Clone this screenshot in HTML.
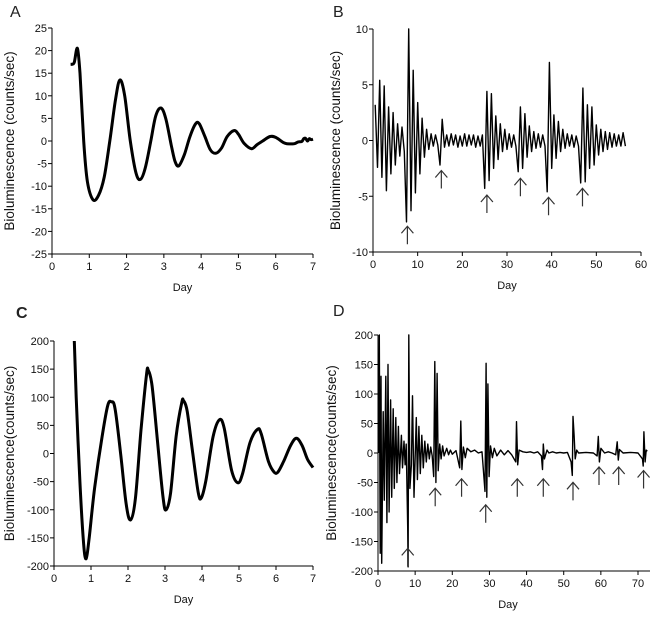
<!DOCTYPE html>
<html><head><meta charset="utf-8"><style>
body{margin:0;background:#fff}
svg{display:block;font-family:"Liberation Sans",Arial,sans-serif}
</style></head><body>
<svg id="fig" width="654" height="619" viewBox="0 0 654 619"></svg>
<script>
// Panel A data
const aDays=[0.5,0.55,0.6,0.68,0.75,0.85,0.95,1.1,1.25,1.4,1.55,1.7,1.82,1.95,2.1,2.25,2.37,2.5,2.65,2.78,2.92,3.05,3.2,3.3,3.4,3.55,3.7,3.85,3.95,4.1,4.25,4.4,4.55,4.7,4.88,5.0,5.15,5.35,5.5,5.65,5.85,6.0,6.2,6.3,6.5,6.6,6.7,6.75,6.8,6.85,6.9,6.95,7];
const aVals=[17,17,17.5,20.5,15,0,-9,-13,-12,-8,0,9,13.5,10,0,-7,-8.5,-6,0,5.5,7.3,5,-1,-4.5,-5.5,-3,1,3.8,3.8,1,-2,-2.7,-1.5,1,2.3,1.5,-0.5,-1.7,-0.8,0,1,0.8,-0.3,-0.6,-0.6,-0.2,-0.1,0.5,0.6,0,0.5,0.3,0.4];
const aYTicks=[25,20,15,10,5,0,-5,-10,-15,-20,-25];
const aXTicks=[0,1,2,3,4,5,6,7];
// Panel B data (day 0.5, step 0.5)
const bVals=[3.2,-2.4,5.4,-3.3,4.9,-4.5,3.0,-3.0,2.5,-2.2,1.5,-1.4,1.2,-1.0,-7.3,10,-6.3,6.3,-4.7,3.4,-3.0,2.0,-1.5,1.0,-0.8,0.6,-0.5,0.5,-0.4,-2.2,1.9,-0.6,0.5,-0.5,0.6,-0.4,0.5,-0.6,0.4,-0.5,0.6,-0.5,0.5,-0.4,0.5,-0.6,0.4,-0.5,0.5,-4.3,4.4,-3.6,4.2,-2.5,2.2,-1.7,1.5,-1.0,1.0,-0.8,0.6,-0.6,0.5,-0.5,-2.8,3.0,-2.5,2.4,-1.5,1.3,-1.0,0.8,-0.7,0.6,-0.6,0.5,-0.5,-4.6,7.0,-2.5,2.3,-1.6,1.7,-1.0,1.0,-0.7,0.6,-0.5,0.5,-0.6,0.4,-0.5,-3.8,4.7,-3.7,3.2,-2.5,3.0,-2.2,1.4,-1.3,1.0,-1.0,0.8,-0.8,0.7,-0.6,0.6,-0.5,0.5,-0.5,0.7,-0.5];
const bArrowDays=[7.7,15.3,25.5,33,39.3,46.9];
const bArrowTips=[-7.6,-2.6,-4.8,-3.3,-5.0,-4.2];
const bYTicks=[10,5,0,-5,-10];
const bXTicks=[0,10,20,30,40,50,60];
// Panel C data
const cDays=[0.55,0.6,0.7,0.8,0.87,0.95,1.1,1.3,1.45,1.55,1.65,1.8,1.95,2.07,2.2,2.35,2.5,2.55,2.65,2.8,2.95,3.03,3.15,3.3,3.45,3.5,3.6,3.75,3.9,3.98,4.1,4.3,4.47,4.6,4.8,4.97,5.1,5.3,5.5,5.6,5.8,5.95,6.05,6.2,6.4,6.55,6.7,6.85,7];
const cVals=[200,100,-50,-160,-187,-150,-60,30,85,92,80,0,-90,-118,-80,40,140,148,120,20,-80,-100,-70,30,90,94,75,0,-70,-79,-50,30,60,45,-30,-52,-35,20,43,35,-15,-33,-33,-15,15,27,15,-10,-25];
const cYTicks=[200,150,100,50,0,-50,-100,-150,-200];
const cXTicks=[0,1,2,3,4,5,6,7];
// Panel D data
const dDays=[0.2,0.35,0.6,0.8,1.0,1.4,1.7,2.1,2.4,2.7,3.0,3.4,3.7,4.1,4.4,4.8,5.1,5.5,5.8,6.3,6.6,7.0,7.3,7.6,8.0,8.1,8.3,8.6,9.0,9.3,9.7,10.3,10.6,11,11.4,11.8,12.2,12.6,13,13.4,13.8,14.2,14.6,15.0,15.3,15.6,15.9,16.2,16.6,17,17.4,17.8,18.5,19,19.5,20,21,22,22.3,22.6,23.0,23.5,24,25,26,27,28,28.8,29.1,29.3,29.6,29.9,30.3,30.8,31.3,32,33,34,35,36,37.1,37.3,37.6,38,39,40,41,42,43,44,44.3,44.5,44.8,45.5,46,47,48,49,50,51,52,52.3,52.5,52.8,53.1,53.5,54,56,58,59,59.3,59.6,60,61,62,63,64,64.4,64.7,65,66,68,70,71.2,71.4,71.6,71.9,72.2,72.5];
const dVals=[0,200,-170,130,-187,70,-80,130,-118,150,-100,90,-75,75,-60,60,-50,45,-35,30,-25,20,-20,15,-125,-193,200,-60,-20,97,-75,60,-45,45,-35,30,-25,20,-15,15,-10,10,-5,-40,155,-50,135,-30,15,-10,12,-5,8,-3,5,-2,4,-25,54,-28,10,-8,8,2,5,0,2,-65,152,-75,117,-40,12,-8,8,-5,5,-3,4,-3,-15,53,-20,5,2,1,2,0,2,-5,-28,15,-10,5,0,2,0,1,0,1,-15,-38,62,30,-10,5,0,1,0,-5,28,-15,8,0,2,0,-3,19,-12,6,0,1,0,-10,-22,36,-15,5,3];
const dArrowDays=[8,15.4,22.5,29,37.5,44.5,52.5,59.5,64.8,71.5];
const dArrowTips=[-160,-58,-42,-86,-42,-42,-48,-22,-22,-28];
const dYTicks=[200,150,100,50,0,-50,-100,-150,-200];
const dXTicks=[0,10,20,30,40,50,60,70];

const svg=document.getElementById('fig');
const NS='http://www.w3.org/2000/svg';
function mk(tag,attrs,parent){const e=document.createElementNS(NS,tag);for(const k in attrs)e.setAttribute(k,attrs[k]);(parent||svg).appendChild(e);return e;}

function smoothPath(pts){
  let d='M'+pts[0][0].toFixed(1)+','+pts[0][1].toFixed(1);
  for(let i=0;i<pts.length-1;i++){
    const p0=pts[i-1]||pts[i],p1=pts[i],p2=pts[i+1],p3=pts[i+2]||p2;
    const c1x=p1[0]+(p2[0]-p0[0])/6,c1y=p1[1]+(p2[1]-p0[1])/6;
    const c2x=p2[0]-(p3[0]-p1[0])/6,c2y=p2[1]-(p3[1]-p1[1])/6;
    d+=`C${c1x.toFixed(1)},${c1y.toFixed(1)} ${c2x.toFixed(1)},${c2y.toFixed(1)} ${p2[0].toFixed(1)},${p2[1].toFixed(1)}`;
  }
  return d;
}

function panel(p){
  const g=mk('g',{});
  
  
  const sx=v=>p.left+(v-p.x0)/(p.x1-p.x0)*(p.right-p.left);
  const sy=v=>p.bottom-(v-p.y0)/(p.y1-p.y0)*(p.bottom-p.top);
  const lab=mk('text',{x:p.lx,y:p.ly,'font-size':16,fill:'#222','font-weight':p.bold?'bold':'normal'},g);
  lab.textContent=p.id.toUpperCase();
  
  
  const ax=mk('path',{d:`M${p.left},${p.top}V${p.bottom}H${p.axisRight}`,stroke:'#000','stroke-width':1,fill:'none'},g);
  
  
  p.yt.forEach(v=>{
    const y=sy(v);
    mk('line',{x1:p.left-4,x2:p.left,y1:y,y2:y,stroke:'#000'},g);
    const t=mk('text',{x:p.left-5,y:y+4,'font-size':11,'text-anchor':'end',fill:'#111'},g);
    t.textContent=v;
    
    
  });
  p.xt.forEach(v=>{
    const x=sx(v);
    mk('line',{x1:x,x2:x,y1:p.bottom,y2:p.bottom+4,stroke:'#000'},g);
    const t=mk('text',{x:x,y:p.bottom+16,'font-size':11,'text-anchor':'middle',fill:'#111'},g);
    t.textContent=v;
    
    
  });
  const xt=mk('text',{x:(p.left+p.right)/2,y:p.bottom+37,'font-size':11,'text-anchor':'middle',fill:'#111'},g);
  xt.textContent='Day';
  
  
  const cy=(p.top+p.bottom)/2;
  const yt=mk('text',{x:p.ytx,y:cy,'font-size':13.5,'text-anchor':'middle',fill:'#111',transform:`rotate(-90 ${p.ytx} ${cy})`},g);
  yt.textContent=p.ytitle;
  
  
  const pts=p.xs.map((x,i)=>[sx(x),sy(p.ys[i])]);
  const d=p.smooth?smoothPath(pts):pts.map((q,i)=>(i?'L':'M')+q[0].toFixed(1)+','+q[1].toFixed(1)).join('');
  const ln=mk('path',{d:d,stroke:'#000','stroke-width':p.sw,fill:'none','stroke-linejoin':'round'},g);
  
  
  if(p.arrows){
    p.arrows.forEach((a,i)=>{
      const x=sx(a),y=sy(p.tips[i]);
      const ar=mk('path',{d:`M${x},${y+1}V${y+19}M${x-6},${y+8}L${x},${y+1}L${x+6},${y+8}`,stroke:'#333','stroke-width':1.2,fill:'none'},g);
      
      
    });
  }
}
panel({id:'a',lx:10,ly:17,left:52,right:313,axisRight:313,top:28,bottom:254,x0:0,x1:7,y0:-25,y1:25,yt:aYTicks,xt:aXTicks,xs:aDays,ys:aVals,sw:3,smooth:true,ytx:14,ytitle:'Bioluminescence (counts/sec)'});
panel({id:'b',lx:333,ly:17,left:373,right:641,axisRight:641,top:29,bottom:252,x0:0,x1:60,y0:-10,y1:10,yt:bYTicks,xt:bXTicks,xs:bVals.map((v,i)=>0.5+i*0.5),ys:bVals,sw:1.4,ytx:340,ytitle:'Bioluminescence  (counts/sec)',arrows:bArrowDays,tips:bArrowTips});
panel({id:'c',lx:16,ly:318,bold:true,left:54,right:313,axisRight:313,top:341,bottom:566,x0:0,x1:7,y0:-200,y1:200,yt:cYTicks,xt:cXTicks,xs:cDays,ys:cVals,sw:3,smooth:true,ytx:14,ytitle:'Bioluminescence(counts/sec)'});
panel({id:'d',lx:333,ly:316,left:378,right:638,axisRight:650,top:335,bottom:571,x0:0,x1:70,y0:-200,y1:200,yt:dYTicks,xt:dXTicks,xs:dDays,ys:dVals,sw:1.4,ytx:336,ytitle:'Bioluminescence(counts/sec)',arrows:dArrowDays,tips:dArrowTips});
</script>
</body></html>
